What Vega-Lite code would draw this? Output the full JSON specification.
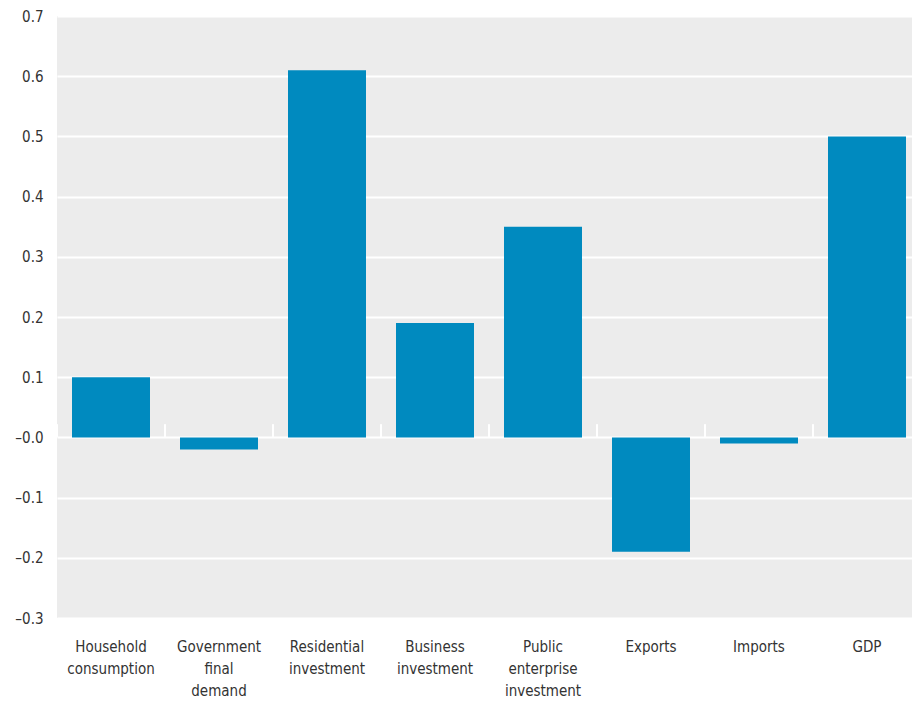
{
  "$schema": "https://vega.github.io/schema/vega-lite/v6.json",
  "autosize": "none",
  "width": 864,
  "height": 602,
  "padding": {"left": 57, "top": 16, "right": 0, "bottom": 86},
  "background": "white",
  "config": {
    "view": {"fill": "#ececec", "stroke": null},
    "font": "DejaVu Sans Condensed, Liberation Sans, sans-serif",
    "axis": {"labelFont": "DejaVu Sans Condensed, Liberation Sans, sans-serif", "labelFontSize": 15, "labelColor": "#333333"}
  },
  "data": {
    "values": [
      {"category": "Household consumption", "value": 0.10},
      {"category": "Government final demand", "value": -0.02},
      {"category": "Residential investment", "value": 0.61},
      {"category": "Business investment", "value": 0.19},
      {"category": "Public enterprise investment", "value": 0.35},
      {"category": "Exports", "value": -0.19},
      {"category": "Imports", "value": -0.01},
      {"category": "GDP", "value": 0.50}
    ]
  },
  "layer": [
    {
      "mark": {"type": "bar", "color": "#008abf"},
      "encoding": {
        "x": {
          "field": "category",
          "type": "nominal",
          "sort": null,
          "scale": {"paddingInner": 0.2778, "paddingOuter": 0.1389},
          "axis": {
            "title": null,
            "labelAngle": 0,
            "ticks": false,
            "domain": false,
            "grid": false,
            "labelPadding": 21,
            "labelBaseline": "top",
            "labelLineHeight": 22,
            "labelExpr": "split(datum.label, ' ')"
          }
        },
        "y": {
          "field": "value",
          "type": "quantitative",
          "scale": {"domain": [-0.3, 0.7], "nice": false, "zero": false},
          "axis": {
            "title": null,
            "values": [-0.3, -0.2, -0.1, 0, 0.1, 0.2, 0.3, 0.4, 0.5, 0.6, 0.7],
            "ticks": false,
            "domain": false,
            "grid": true,
            "gridColor": "white",
            "gridWidth": 2,
            "gridOpacity": 1,
            "labelPadding": 14,
            "labelExpr": "datum.value <= 0.00001 ? '–' + format(abs(datum.value), '.1f') : format(datum.value, '.1f')"
          }
        }
      }
    },
    {
      "mark": {"type": "rule", "color": "white", "strokeWidth": 2},
      "encoding": {
        "x": {"field": "category", "type": "nominal", "sort": null, "bandPosition": -0.1923},
        "y": {"datum": 0},
        "y2": {"datum": 0.022}
      }
    }
  ]
}
